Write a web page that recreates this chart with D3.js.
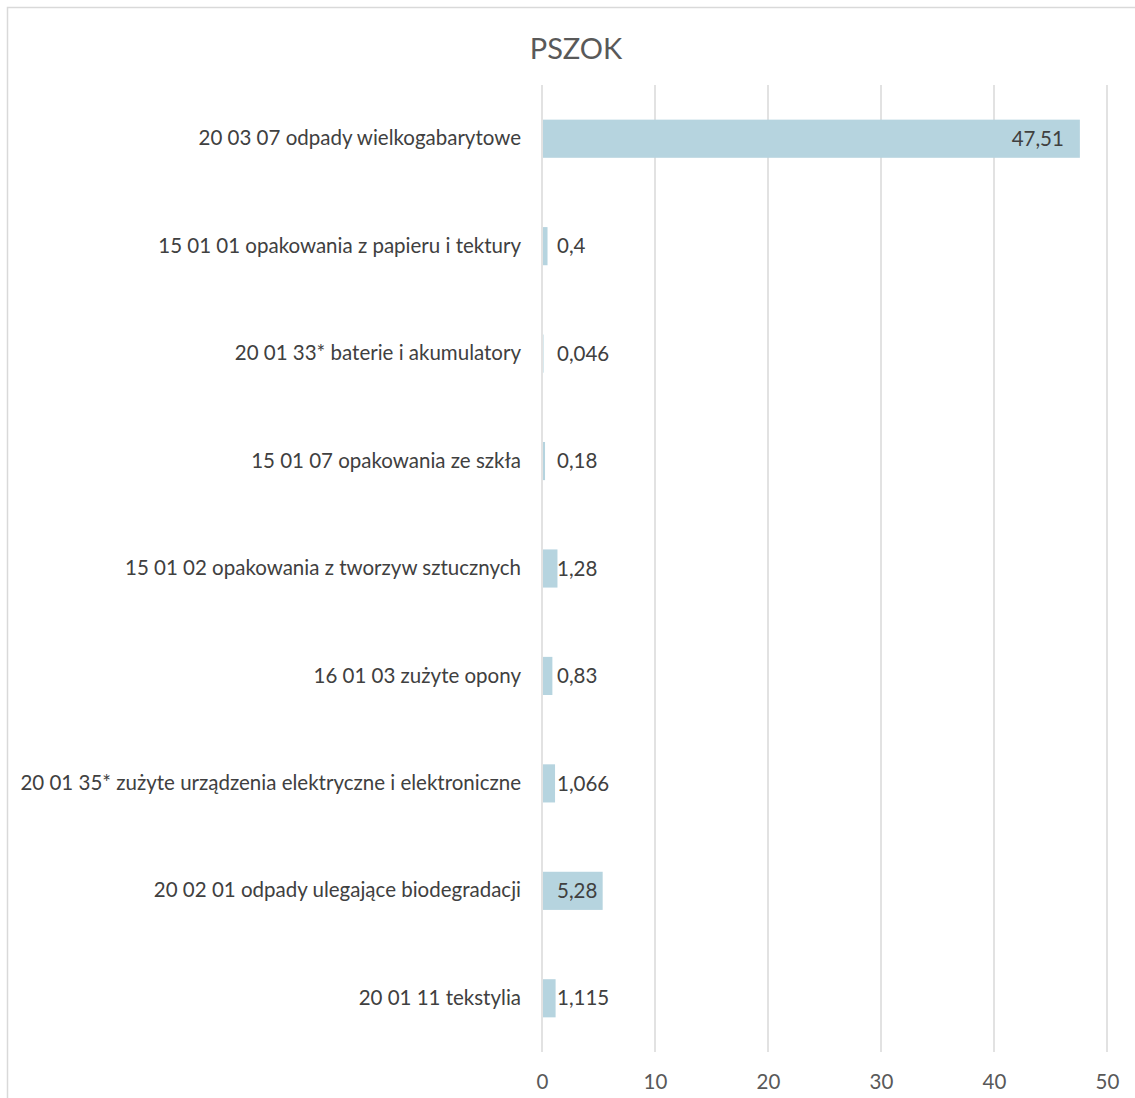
<!DOCTYPE html>
<html>
<head>
<meta charset="utf-8">
<script src="https://cdn.jsdelivr.net/npm/d3@7"></script>
<style>
  body { margin: 0; background: #fff; }
  svg text { font-family: Lato, "Open Sans", sans-serif; }
</style>
</head>
<body>
<svg id="chart" width="1135" height="1098"></svg>
<script>
// categories, top to bottom
var categories = [
    "20 03 07 odpady wielkogabarytowe",
    "15 01 01 opakowania z papieru i tektury",
    "20 01 33* baterie i akumulatory",
    "15 01 07 opakowania ze szkła",
    "15 01 02 opakowania z tworzyw sztucznych",
    "16 01 03 zużyte opony",
    "20 01 35* zużyte urządzenia elektryczne i elektroniczne",
    "20 02 01 odpady ulegające biodegradacji",
    "20 01 11 tekstylia"
];
var values = [47.51, 0.4, 0.046, 0.18, 1.28, 0.83, 1.066, 5.28, 1.115];
var valueLabels = ["47,51", "0,4", "0,046", "0,18", "1,28", "0,83", "1,066", "5,28", "1,115"];
var xTicks = [0, 10, 20, 30, 40, 50];

var svg = d3.select("#chart");
var margin = { top: 85, right: 28, bottom: 46, left: 542 };
var width = +svg.attr("width") - margin.left - margin.right;
var height = +svg.attr("height") - margin.top - margin.bottom;

// outer frame
svg.append("path")
    .attr("d", "M7.5,1098 V7.5 H1135")
    .attr("fill", "none")
    .attr("stroke", "#d9d9d9")
    .attr("stroke-width", 1.5);

svg.append("text")
    .attr("x", 576)
    .attr("y", 59)
    .attr("text-anchor", "middle")
    .attr("font-size", "29px")
    .attr("fill", "#595959")
    .text("PSZOK");

var g = svg.append("g").attr("transform", "translate(" + margin.left + "," + margin.top + ")");

var x = d3.scaleLinear().domain([0, 50]).range([0, width]);
var y = d3.scaleBand().domain(categories).range([0, height]).paddingInner(0.645).paddingOuter(0.3225);

// gridlines
g.append("g")
    .selectAll("line")
    .data(xTicks)
    .enter().append("line")
    .attr("x1", function (d) { return x(d); })
    .attr("x2", function (d) { return x(d); })
    .attr("y1", 0)
    .attr("y2", height)
    .attr("stroke", "#d9d9d9")
    .attr("stroke-width", 1.5);

// x axis labels
var xAxis = g.append("g")
    .attr("transform", "translate(0," + height + ")")
    .call(d3.axisBottom(x).tickValues(xTicks).tickSize(0).tickPadding(22));
xAxis.select(".domain").remove();
xAxis.selectAll("text")
    .attr("font-size", "20.5px")
    .attr("fill", "#595959")
    .style("font-family", "Lato, 'Open Sans', sans-serif");

// y axis labels
var yAxis = g.append("g")
    .call(d3.axisLeft(y).tickSize(0).tickPadding(21));
yAxis.select(".domain").remove();
yAxis.selectAll("text")
    .attr("font-size", "20.5px")
    .attr("fill", "#404040")
    .style("font-family", "Lato, 'Open Sans', sans-serif");

// bars
g.selectAll(".bar")
    .data(values)
    .enter().append("rect")
    .attr("class", "bar")
    .attr("x", x(0) + 1)
    .attr("y", function (d, i) { return y(categories[i]); })
    .attr("width", function (d) { return Math.max(0, x(d) - x(0)); })
    .attr("height", y.bandwidth())
    .attr("fill", "#b6d4df");

// value labels: largest bar inside end, the rest inside base
var maxV = d3.max(values);
g.selectAll(".vlabel")
    .data(values)
    .enter().append("text")
    .attr("class", "vlabel")
    .attr("x", function (d) { return d === maxV ? x(d) - 15 : x(0) + 15; })
    .attr("y", function (d, i) { return y(categories[i]) + y.bandwidth() / 2; })
    .attr("dy", "0.35em")
    .attr("text-anchor", function (d) { return d === maxV ? "end" : "start"; })
    .attr("font-size", "20.5px")
    .attr("fill", "#404040")
    .text(function (d, i) { return valueLabels[i]; });
</script>
</body>
</html>
